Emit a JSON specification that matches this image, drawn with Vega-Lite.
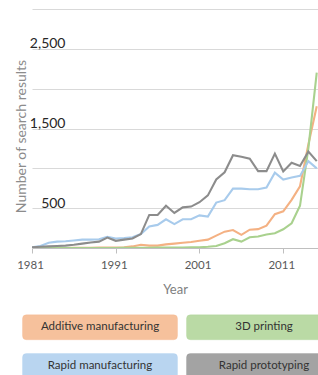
{
  "$schema": "https://vega.github.io/schema/vega-lite/v6.json",
  "width": 286,
  "height": 239,
  "autosize": {"type": "none"},
  "padding": {"left": 32, "top": 9, "right": 0, "bottom": 127},
  "background": "white",
  "config": {"font": "Lato", "view": {"stroke": null}},
  "data": {
    "values": [
      {"year": 1981, "Additive manufacturing": 0, "3D printing": 0, "Rapid manufacturing": 10, "Rapid prototyping": 10},
      {"year": 1982, "Additive manufacturing": 0, "3D printing": 0, "Rapid manufacturing": 25, "Rapid prototyping": 15},
      {"year": 1983, "Additive manufacturing": 0, "3D printing": 0, "Rapid manufacturing": 65, "Rapid prototyping": 20},
      {"year": 1984, "Additive manufacturing": 0, "3D printing": 0, "Rapid manufacturing": 80, "Rapid prototyping": 25},
      {"year": 1985, "Additive manufacturing": 0, "3D printing": 0, "Rapid manufacturing": 85, "Rapid prototyping": 30},
      {"year": 1986, "Additive manufacturing": 2, "3D printing": 0, "Rapid manufacturing": 95, "Rapid prototyping": 40},
      {"year": 1987, "Additive manufacturing": 3, "3D printing": 0, "Rapid manufacturing": 105, "Rapid prototyping": 55},
      {"year": 1988, "Additive manufacturing": 3, "3D printing": 0, "Rapid manufacturing": 105, "Rapid prototyping": 70},
      {"year": 1989, "Additive manufacturing": 5, "3D printing": 0, "Rapid manufacturing": 110, "Rapid prototyping": 80},
      {"year": 1990, "Additive manufacturing": 5, "3D printing": 0, "Rapid manufacturing": 140, "Rapid prototyping": 130},
      {"year": 1991, "Additive manufacturing": 5, "3D printing": 0, "Rapid manufacturing": 120, "Rapid prototyping": 90},
      {"year": 1992, "Additive manufacturing": 10, "3D printing": 2, "Rapid manufacturing": 125, "Rapid prototyping": 105},
      {"year": 1993, "Additive manufacturing": 20, "3D printing": 2, "Rapid manufacturing": 135, "Rapid prototyping": 120},
      {"year": 1994, "Additive manufacturing": 40, "3D printing": 3, "Rapid manufacturing": 175, "Rapid prototyping": 175},
      {"year": 1995, "Additive manufacturing": 30, "3D printing": 3, "Rapid manufacturing": 270, "Rapid prototyping": 415},
      {"year": 1996, "Additive manufacturing": 30, "3D printing": 5, "Rapid manufacturing": 290, "Rapid prototyping": 415},
      {"year": 1997, "Additive manufacturing": 45, "3D printing": 5, "Rapid manufacturing": 360, "Rapid prototyping": 530},
      {"year": 1998, "Additive manufacturing": 55, "3D printing": 5, "Rapid manufacturing": 300, "Rapid prototyping": 440},
      {"year": 1999, "Additive manufacturing": 65, "3D printing": 5, "Rapid manufacturing": 360, "Rapid prototyping": 510},
      {"year": 2000, "Additive manufacturing": 75, "3D printing": 8, "Rapid manufacturing": 360, "Rapid prototyping": 520},
      {"year": 2001, "Additive manufacturing": 90, "3D printing": 10, "Rapid manufacturing": 410, "Rapid prototyping": 575},
      {"year": 2002, "Additive manufacturing": 105, "3D printing": 15, "Rapid manufacturing": 395, "Rapid prototyping": 660},
      {"year": 2003, "Additive manufacturing": 155, "3D printing": 25, "Rapid manufacturing": 570, "Rapid prototyping": 860},
      {"year": 2004, "Additive manufacturing": 205, "3D printing": 60, "Rapid manufacturing": 600, "Rapid prototyping": 950},
      {"year": 2005, "Additive manufacturing": 225, "3D printing": 110, "Rapid manufacturing": 745, "Rapid prototyping": 1165},
      {"year": 2006, "Additive manufacturing": 165, "3D printing": 80, "Rapid manufacturing": 745, "Rapid prototyping": 1145},
      {"year": 2007, "Additive manufacturing": 230, "3D printing": 135, "Rapid manufacturing": 737, "Rapid prototyping": 1120},
      {"year": 2008, "Additive manufacturing": 237, "3D printing": 145, "Rapid manufacturing": 737, "Rapid prototyping": 965},
      {"year": 2009, "Additive manufacturing": 280, "3D printing": 170, "Rapid manufacturing": 760, "Rapid prototyping": 965},
      {"year": 2010, "Additive manufacturing": 425, "3D printing": 185, "Rapid manufacturing": 945, "Rapid prototyping": 1185},
      {"year": 2011, "Additive manufacturing": 460, "3D printing": 235, "Rapid manufacturing": 860, "Rapid prototyping": 960},
      {"year": 2012, "Additive manufacturing": 605, "3D printing": 310, "Rapid manufacturing": 885, "Rapid prototyping": 1070},
      {"year": 2013, "Additive manufacturing": 775, "3D printing": 530, "Rapid manufacturing": 905, "Rapid prototyping": 1030},
      {"year": 2014, "Additive manufacturing": 1300, "3D printing": 1250, "Rapid manufacturing": 1090, "Rapid prototyping": 1210},
      {"year": 2015, "Additive manufacturing": 1780, "3D printing": 2200, "Rapid manufacturing": 1000, "Rapid prototyping": 1090}
    ]
  },
  "transform": [
    {"fold": ["Additive manufacturing", "3D printing", "Rapid manufacturing", "Rapid prototyping"], "as": ["series", "count"]}
  ],
  "mark": {"type": "line", "strokeWidth": 2.1, "clip": true},
  "encoding": {
    "x": {
      "field": "year",
      "type": "quantitative",
      "scale": {"domain": [1981, 2015.15], "nice": false, "zero": false},
      "axis": {
        "values": [1981, 1991, 2001, 2011],
        "format": "d",
        "grid": false,
        "domainColor": "#bfbfbf",
        "tickColor": "#bfbfbf",
        "tickSize": 5,
        "labelColor": "#595959",
        "labelFontSize": 11.5,
        "labelPadding": 6,
        "labelOffset": -2,
        "labelFlush": false,
        "labelOverlap": false,
        "title": "Year",
        "titleColor": "#808080",
        "titleFontSize": 13,
        "titleFontWeight": "normal",
        "titlePadding": 13
      }
    },
    "y": {
      "field": "count",
      "type": "quantitative",
      "scale": {"domain": [0, 3000], "nice": false},
      "axis": {
        "values": [0, 500, 1000, 1500, 2000, 2500, 3000],
        "labelExpr": "datum.value % 1000 == 500 ? format(datum.value, ',') : ''",
        "labelOverlap": false,
        "labelFlush": false,
        "domain": false,
        "ticks": false,
        "gridColor": "#d9d9d9",
        "labelAlign": "right",
        "labelPadding": -33,
        "labelBaseline": "alphabetic",
        "labelOffset": -1,
        "labelFontSize": 14,
        "labelColor": "#262626",
        "title": "Number of search results",
        "titleX": -11,
        "titleY": 127,
        "titleAngle": -90,
        "titleAlign": "center",
        "titleBaseline": "middle",
        "titleColor": "#8c8c8c",
        "titleFontSize": 14,
        "titleFontWeight": "normal"
      }
    },
    "color": {
      "field": "series",
      "type": "nominal",
      "scale": {
        "domain": ["Additive manufacturing", "Rapid manufacturing", "3D printing", "Rapid prototyping"],
        "range": ["#f4b183", "#a8cbec", "#a9d18e", "#8c8c8c"]
      },
      "legend": {
        "orient": "none",
        "legendX": 55,
        "legendY": 305,
        "title": null,
        "columns": 2,
        "columnPadding": 4,
        "rowPadding": 9,
        "padding": 0,
        "symbolType": "M-5.88,-1 H5.88 Q6.2,-1 6.2,-0.68 V0.68 Q6.2,1 5.88,1 H-5.88 Q-6.2,1 -6.2,0.68 V-0.68 Q-6.2,-1 -5.88,-1 Z",
        "symbolSize": 625,
        "symbolStrokeWidth": 1,
        "labelAlign": "center",
        "labelOffset": -13,
        "labelFontSize": 11.5,
        "labelColor": "#333333",
        "labelLimit": 0,
        "encode": {
          "symbols": {
            "update": {
              "fill": {"scale": "color", "field": "value"},
              "fillOpacity": {"value": 0.8},
              "stroke": {"value": "#000000"},
              "strokeOpacity": {"value": 0.28},
              "opacity": {"value": 1}
            }
          }
        }
      }
    }
  }
}
